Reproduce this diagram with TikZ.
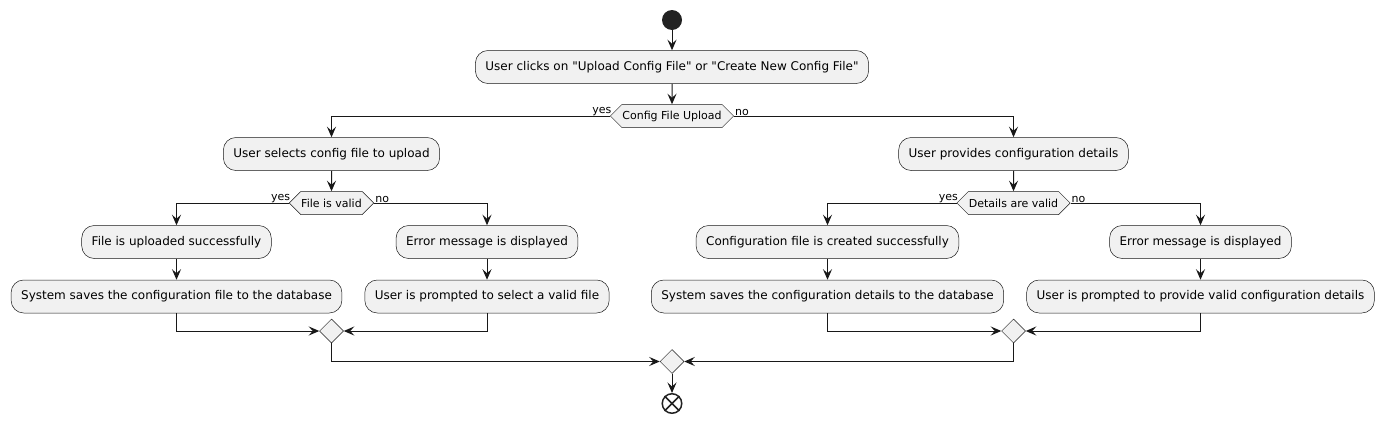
\documentclass[tikz,border=0pt]{standalone}
\usepackage{fontspec}
\setmainfont{DejaVu Sans}[Ligatures=TeXOff]
\usetikzlibrary{positioning, arrows.meta, shapes.geometric, shapes.symbols}
\definecolor{umlline}{HTML}{181818}
\definecolor{umlfill}{HTML}{F1F1F1}
\definecolor{umldot}{HTML}{222222}

\begin{document}
\begin{tikzpicture}[x=1pt, y=-1pt, font=\fontsize{12}{14}\selectfont,
    anode/.style={draw=umlline, line width=0.5pt, rounded corners=12.5pt, fill=umlfill, minimum height=33pt, inner xsep=10pt},
    dnode/.style={draw=umlline, line width=0.5pt, fill=umlfill, signal, signal to=west and east, signal pointer angle=90, minimum height=23pt, inner xsep=0.5pt, font=\fontsize{11}{13}\selectfont},
    mnode/.style={draw=umlline, line width=0.5pt, fill=umlfill, diamond, minimum size=24pt, inner sep=0pt},
    snode/.style={circle, fill=umldot, minimum size=20pt, inner sep=0pt},
    enode/.style={circle, draw=umldot, line width=1.5pt, fill=white, minimum size=19.5pt, inner sep=0pt},
    lbl/.style={font=\fontsize{11}{13}\selectfont, inner sep=0pt},
    flow/.style={-{Stealth[length=10.5pt, width=9pt, inset=4pt]}, line width=1pt, draw=umlline}]
  \useasboundingbox (0,0) rectangle (1386,423);

  \node[snode] (start) at (672,20) {};
  \node[anode] (click) at (672,67) {User clicks on "Upload Config File" or "Create New Config File"};
  \node[dnode] (upload) at (672,116) {Config File Upload};

  % upload branch
  \node[anode] (select) at (331.5,154) {User selects config file to upload};
  \node[dnode] (valid) at (331.5,203) {File is valid};
  \node[anode] (uploaded) at (176.5,242) {File is uploaded successfully};
  \node[anode] (savefile) at (176.5,296.5) {System saves the configuration file to the database};
  \node[anode] (error1) at (487,242) {Error message is displayed};
  \node[anode] (prompt1) at (487,296.5) {User is prompted to select a valid file};
  \node[mnode] (merge1) at (331.5,331) {};

  % create branch
  \node[anode] (provide) at (1013.5,154) {User provides configuration details};
  \node[dnode] (details) at (1013.5,203) {Details are valid};
  \node[anode] (created) at (827.5,242) {Configuration file is created successfully};
  \node[anode] (savedet) at (827.5,296.5) {System saves the configuration details to the database};
  \node[anode] (error2) at (1200.5,242) {Error message is displayed};
  \node[anode] (prompt2) at (1200.5,296.5) {User is prompted to provide valid configuration details};
  \node[mnode] (merge2) at (1013.5,331) {};

  \node[mnode] (merge3) at (672,361.5) {};
  \node[enode] (stop) at (672,403.5) {};
  \draw[umldot, line width=1.5pt] (stop.north west) -- (stop.south east) (stop.north east) -- (stop.south west);

  \node[lbl, anchor=south east] (yes1) at ([xshift=1.5pt, yshift=0.5pt]upload.west) {yes};
  \node[lbl, anchor=south west] (no1) at ([xshift=1pt, yshift=0.5pt]upload.east) {no};
  \node[lbl, anchor=south east] (yes2) at ([xshift=1.5pt, yshift=0.5pt]valid.west) {yes};
  \node[lbl, anchor=south west] (no2) at ([xshift=1pt, yshift=0.5pt]valid.east) {no};
  \node[lbl, anchor=south east] (yes3) at ([xshift=1.5pt, yshift=0.5pt]details.west) {yes};
  \node[lbl, anchor=south west] (no3) at ([xshift=1pt, yshift=0.5pt]details.east) {no};

  \draw[flow] (start) -- (click);
  \draw[flow] (click) -- (upload);
  \draw[flow] (upload.west) -| (select.north);
  \draw[flow] (upload.east) -| (provide.north);

  \draw[flow] (select) -- (valid);
  \draw[flow] (valid.west) -| (uploaded.north);
  \draw[flow] (valid.east) -| (error1.north);
  \draw[flow] (uploaded) -- (savefile);
  \draw[flow] (error1) -- (prompt1);
  \draw[flow] (savefile.south) |- (merge1.west);
  \draw[flow] (prompt1.south) |- (merge1.east);

  \draw[flow] (provide) -- (details);
  \draw[flow] (details.west) -| (created.north);
  \draw[flow] (details.east) -| (error2.north);
  \draw[flow] (created) -- (savedet);
  \draw[flow] (error2) -- (prompt2);
  \draw[flow] (savedet.south) |- (merge2.west);
  \draw[flow] (prompt2.south) |- (merge2.east);

  \draw[flow] (merge1.south) |- (merge3.west);
  \draw[flow] (merge2.south) |- (merge3.east);
  \draw[flow] (merge3) -- (stop);
\end{tikzpicture}
\end{document}
